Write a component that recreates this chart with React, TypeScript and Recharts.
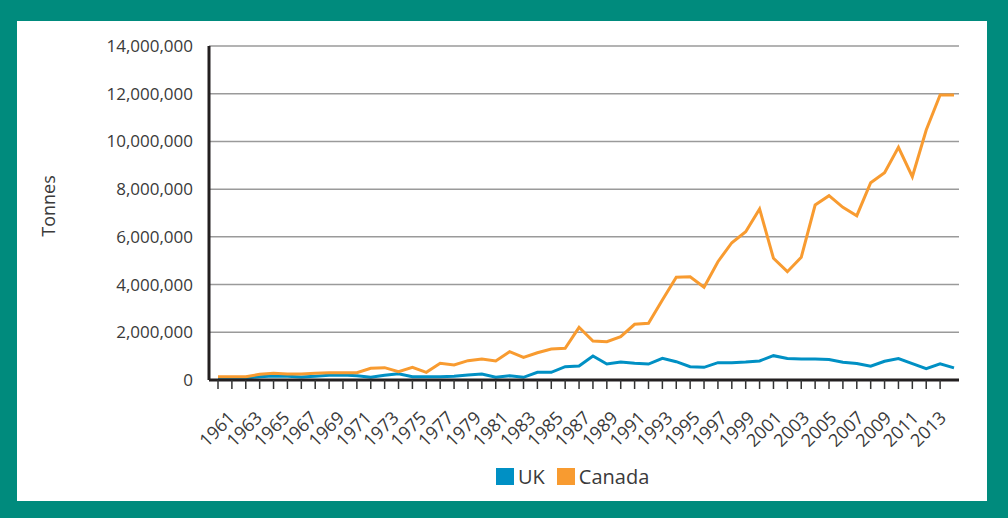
import React from 'react';
import { LineChart, Line, XAxis, YAxis, CartesianGrid } from 'recharts';

const years = [
  '1961', '1962', '1963', '1964', '1965', '1966', '1967', '1968', '1969', '1970',
  '1971', '1972', '1973', '1974', '1975', '1976', '1977', '1978', '1979', '1980',
  '1981', '1982', '1983', '1984', '1985', '1986', '1987', '1988', '1989', '1990',
  '1991', '1992', '1993', '1994', '1995', '1996', '1997', '1998', '1999', '2000',
  '2001', '2002', '2003', '2004', '2005', '2006', '2007', '2008', '2009', '2010',
  '2011', '2012', '2013', '2014',
];

const ukValues = [
  70000, 70000, 84000, 140000, 168000, 155000, 126000, 155000, 196000, 210000,
  182000, 112000, 196000, 265000, 140000, 140000, 140000, 155000, 210000, 250000,
  120000, 180000, 113000, 322000, 322000, 559000, 587000, 1006000, 670000, 754000,
  698000, 670000, 908000, 768000, 559000, 531000, 726000, 726000, 754000, 800000,
  1020000, 900000, 885000, 885000, 858000, 745000, 690000, 578000, 785000, 900000,
  690000, 480000, 677000, 510000,
];

const canadaValues = [
  140000, 140000, 140000, 237000, 279000, 251000, 251000, 279000, 307000, 307000,
  307000, 489000, 517000, 349000, 531000, 321000, 698000, 628000, 810000, 880000,
  800000, 1186000, 951000, 1144000, 1299000, 1329000, 2209000, 1635000, 1605000, 1815000,
  2335000, 2377000, 3353000, 4305000, 4330000, 3886000, 4959000, 5755000, 6216000, 7170000,
  5101000, 4540000, 5143000, 7335000, 7725000, 7239000, 6887000, 8270000, 8689000, 9754000,
  8521000, 10479000, 11946000, 11946000,
];

const yTicks = [0, 2000000, 4000000, 6000000, 8000000, 10000000, 12000000, 14000000];

const seriesNames = ['UK', 'Canada'];
const seriesColors = ['#0090C4', '#F89B30'];

const data = years.map((y, i) => ({ year: y, uk: ukValues[i], canada: canadaValues[i] }));

const FONT = '"Open Sans", "DejaVu Sans", sans-serif';
const TEXT = '#3a3a3a';

const XTick = (props: any) => {
  const { x, y, payload, index } = props;
  const showLabel = index % 2 === 0;
  const drawTick = index < years.length - 1;
  const lx = x + 18 - index * 0.21;
  const ly = y + 39;
  return (
    <g>
      {drawTick && <line x1={x} y1={y} x2={x} y2={y + 9} stroke="#333" strokeWidth={1.5} />}
      {showLabel && (
        <text
          x={lx}
          y={ly}
          textAnchor="end"
          fontSize={18}
          fontFamily={FONT}
          fill={TEXT}
          transform={`rotate(-45, ${lx}, ${ly})`}
        >
          {payload.value}
        </text>
      )}
    </g>
  );
};

export default function App() {
  return (
    <div style={{ position: 'absolute', left: 0, top: 0, width: 1008, height: 518, background: '#008B7D' }}>
      <div style={{ position: 'absolute', left: 17, top: 21, width: 970, height: 480, background: '#ffffff' }} />
      <div style={{ position: 'absolute', left: 0, top: 0 }}>
        <LineChart
          width={1008}
          height={518}
          data={data}
          margin={{ top: 46, right: 49, bottom: 0, left: 0 }}
        >
          <CartesianGrid vertical={false} stroke="#9a9a9a" strokeWidth={1.5} />
          <XAxis
            dataKey="year"
            interval={0}
            height={138}
            padding={{ left: 9, right: 5 }}
            tickLine={false}
            tickSize={0}
            tickMargin={0}
            axisLine={{ stroke: '#231f20', strokeWidth: 3 }}
            tick={(p: any) => <XTick {...p} />}
          />
          <YAxis
            width={209}
            domain={[0, 14000000]}
            ticks={yTicks}
            interval={0}
            tickLine={false}
            tickSize={8}
            tickMargin={8}
            axisLine={{ stroke: '#231f20', strokeWidth: 3 }}
            tickFormatter={(v: number) => v.toLocaleString('en-US')}
            tick={{ fontSize: 17, fontFamily: FONT, fill: TEXT }}
          />
          <Line
            type="linear"
            dataKey="uk"
            name={seriesNames[0]}
            stroke={seriesColors[0]}
            strokeWidth={3}
            dot={false}
            isAnimationActive={false}
          />
          <Line
            type="linear"
            dataKey="canada"
            name={seriesNames[1]}
            stroke={seriesColors[1]}
            strokeWidth={3}
            dot={false}
            isAnimationActive={false}
          />
        </LineChart>
      </div>
      <div
        style={{
          position: 'absolute',
          left: 48,
          top: 206,
          transform: 'translate(-50%, -50%) rotate(-90deg)',
          fontFamily: FONT,
          fontSize: 18,
          color: TEXT,
          whiteSpace: 'nowrap',
        }}
      >
        Tonnes
      </div>
      <div
        style={{
          position: 'absolute',
          left: 496,
          top: 463,
          display: 'flex',
          alignItems: 'center',
          fontFamily: FONT,
          fontSize: 20,
          color: TEXT,
          whiteSpace: 'nowrap',
        }}
      >
        {seriesNames.map((n, i) => (
          <div key={n} style={{ display: 'flex', alignItems: 'center', marginRight: i === 0 ? 12 : 0 }}>
            <div style={{ width: 18, height: 17, background: seriesColors[i], marginRight: 4 }} />
            <span>{n}</span>
          </div>
        ))}
      </div>
    </div>
  );
}
